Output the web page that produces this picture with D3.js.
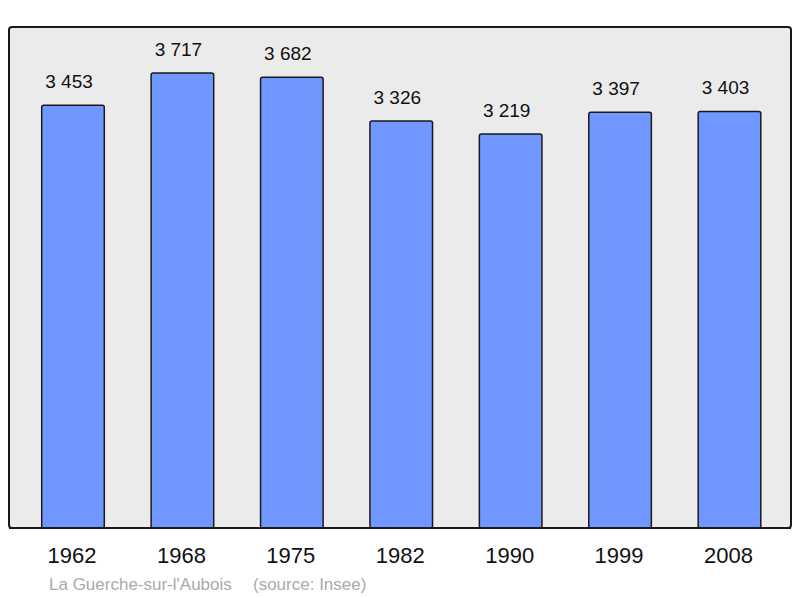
<!DOCTYPE html>
<html>
<head>
<meta charset="utf-8">
<script src="https://cdn.jsdelivr.net/npm/d3@7"></script>
<style>
  body { margin: 0; background: #fff; }
  text { font-family: "Liberation Sans", Arial, sans-serif; }
</style>
</head>
<body>
<svg width="800" height="598"></svg>
<script>
// population by census year
const years = ["1962", "1968", "1975", "1982", "1990", "1999", "2008"];
const population = [3453, 3717, 3682, 3326, 3219, 3397, 3403];
const commune = "La Guerche-sur-l'Aubois";
const source = "(source: Insee)";

const svg = d3.select("svg");

// background panel
const panel = {left: 9, top: 27, right: 791, bottom: 528};
svg.append("rect")
    .attr("x", panel.left)
    .attr("y", panel.top)
    .attr("width", panel.right - panel.left)
    .attr("height", panel.bottom - panel.top)
    .attr("rx", 3)
    .attr("fill", "#ebebeb")
    .attr("stroke", "#1a1a1a")
    .attr("stroke-width", 2);

let x = d3.scaleBand()
    .domain(years)
    .range([18.3, 784.2])
    .paddingInner(0.428)
    .paddingOuter(0.214);

let y = d3.scaleLinear()
    .domain([0, 4093])
    .range([panel.bottom, panel.top]);

let data = years.map((yr, i) => ({year: yr, value: population[i]}));

// bars
svg.append("g")
    .selectAll("rect")
    .data(data)
    .enter().append("rect")
    .attr("x", d => x(d.year))
    .attr("y", d => y(d.value))
    .attr("width", x.bandwidth())
    .attr("height", d => panel.bottom - y(d.value))
    .attr("rx", 2)
    .attr("fill", "#7096ff")
    .attr("stroke", "#1a1a1a")
    .attr("stroke-width", 1.5);

// value labels, french thousands separator
const fmt = v => d3.format(",")(v).replace(",", " ");
svg.append("g")
    .selectAll("text")
    .data(data)
    .enter().append("text")
    .attr("x", d => x(d.year) + x.bandwidth() / 2 - 4)
    .attr("y", d => y(d.value) - 17)
    .attr("text-anchor", "middle")
    .attr("font-size", 19)
    .attr("fill", "#111")
    .text(d => fmt(d.value));

// redraw panel bottom line over the bars
svg.append("line")
    .attr("x1", panel.left).attr("x2", panel.right)
    .attr("y1", panel.bottom).attr("y2", panel.bottom)
    .attr("stroke", "#1a1a1a")
    .attr("stroke-width", 2);

// year labels
svg.append("g")
    .selectAll("text")
    .data(years)
    .enter().append("text")
    .attr("x", d => x(d) + x.bandwidth() / 2 - 1)
    .attr("y", 563)
    .attr("text-anchor", "middle")
    .attr("font-size", 22)
    .attr("fill", "#111")
    .text(d => d);

// footer
svg.append("text")
    .attr("x", 49).attr("y", 590)
    .attr("font-size", 17)
    .attr("fill", "#aaaaaa")
    .text(commune);
svg.append("text")
    .attr("x", 253).attr("y", 590)
    .attr("font-size", 17)
    .attr("fill", "#aaaaaa")
    .text(source);
</script>
</body>
</html>
